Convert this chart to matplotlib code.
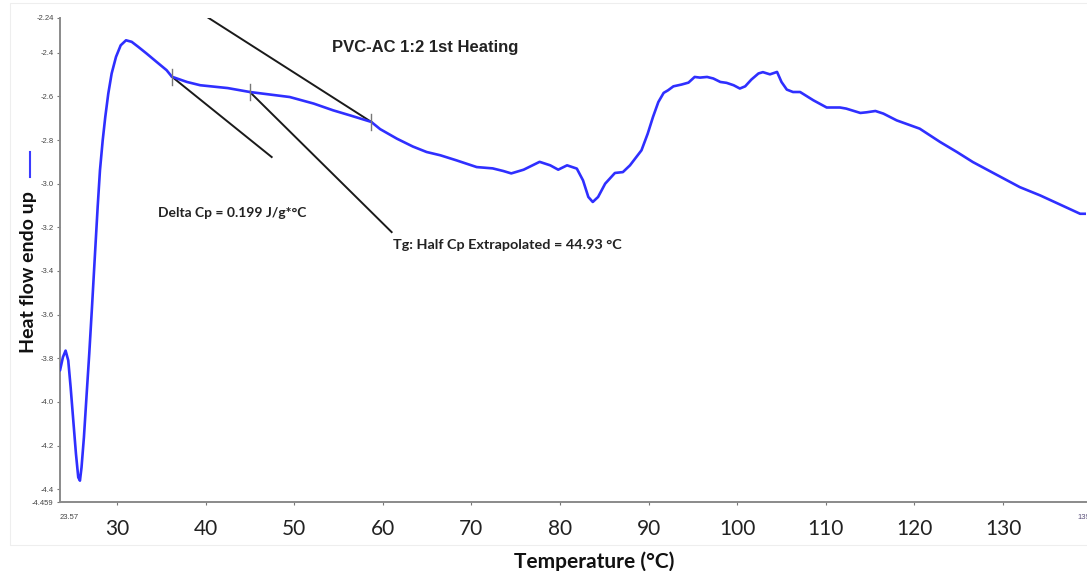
import matplotlib
matplotlib.use("Agg")
import matplotlib.pyplot as plt
from matplotlib.lines import Line2D
from matplotlib.patches import Rectangle

# DSC trace, first heating of PVC-AC 1:2
temp = [23.57, 23.9, 24.2, 24.5, 24.77, 25.07, 25.37, 25.63, 25.82, 26.0,
        26.27, 26.58, 26.87, 27.18, 27.52, 27.82, 28.08, 28.39, 28.68, 29.02,
        29.4, 29.89, 30.42, 31.02, 31.66, 32.4, 33.35, 34.47, 35.6, 36.2,
        37.9, 39.4, 42.5, 45.0, 49.5, 52.2, 54.4, 56.3, 58.7, 59.7, 61.6,
        63.4, 64.95, 66.5, 68.3, 70.6, 72.4, 73.6, 74.5, 75.9, 77.7, 78.9,
        79.8, 80.8, 81.9, 82.6, 83.2, 83.7, 84.3, 85.1, 86.2, 87.1, 87.9,
        89.2, 89.9, 90.5, 91.1, 91.7, 92.2, 92.8, 93.7, 94.5, 95.2, 95.8,
        96.6, 97.3, 98.1, 98.8, 99.6, 100.3, 100.9, 101.6, 102.4, 102.9,
        103.7, 104.5, 105.0, 105.6, 106.3, 107.1, 108.6, 110.1, 111.6,
        112.3, 113.9, 114.6, 115.6, 116.5, 118.0, 120.6, 122.9, 124.8,
        126.6, 128.9, 131.9, 134.2, 136.4, 138.7, 139.37]
heat_flow = [-3.856, -3.795, -3.765, -3.81, -3.933, -4.086, -4.238, -4.346,
             -4.361, -4.30, -4.162, -3.963, -3.78, -3.566, -3.321, -3.107,
             -2.939, -2.801, -2.694, -2.587, -2.495, -2.419, -2.366, -2.343,
             -2.35, -2.373, -2.404, -2.442, -2.48, -2.51, -2.534, -2.549,
             -2.562, -2.58, -2.603, -2.633, -2.664, -2.687, -2.717, -2.75,
             -2.794, -2.83, -2.855, -2.87, -2.893, -2.924, -2.93, -2.942,
             -2.953, -2.936, -2.90, -2.916, -2.936, -2.916, -2.931, -2.985,
             -3.061, -3.084, -3.061, -3.0, -2.951, -2.947, -2.916, -2.847,
             -2.771, -2.694, -2.626, -2.584, -2.572, -2.554, -2.546, -2.537,
             -2.511, -2.514, -2.511, -2.518, -2.534, -2.538, -2.549, -2.564,
             -2.554, -2.523, -2.495, -2.489, -2.499, -2.488, -2.534, -2.569,
             -2.58, -2.58, -2.618, -2.651, -2.651, -2.656, -2.676, -2.673,
             -2.667, -2.679, -2.71, -2.748, -2.809, -2.855, -2.901, -2.951,
             -3.016, -3.054, -3.095, -3.138, -3.138]

# glass transition analysis: onset, midpoint (Tg), end
tg_points_x = [36.2, 45.0, 58.7]
tg_points_y = [-2.51, -2.58, -2.717]
# tangent / construction lines (x0, y0, x1, y1)
tangent_lines = [
    (36.2, -2.51, 47.46, -2.878),
    (45.0, -2.58, 61.0, -3.222),
    (40.2, -2.237, 58.7, -2.717),
]

x_ticks = [30, 40, 50, 60, 70, 80, 90, 100, 110, 120, 130]
y_ticks = [-2.24, -2.4, -2.6, -2.8, -3.0, -3.2, -3.4, -3.6, -3.8, -4.0,
           -4.2, -4.4, -4.459]
y_tick_labels = ["-2.24", "-2.4", "-2.6", "-2.8", "-3.0", "-3.2", "-3.4",
                 "-3.6", "-3.8", "-4.0", "-4.2", "-4.4", "-4.459"]
x_min, x_max = 23.57, 139.37
y_min, y_max = -4.459, -2.24

fig = plt.figure(figsize=(10.87, 5.71), dpi=100)
ax = fig.add_axes([0.0552, 0.1208, 0.9439, 0.848])

# faint outer frame
fig.add_artist(Rectangle((0.009, 0.045), 0.995, 0.95, transform=fig.transFigure,
                         fill=False, edgecolor="#eeeeee", linewidth=0.8))

ax.plot(temp, heat_flow, color="#2f2fff", linewidth=1.9, solid_capstyle="round",
        solid_joinstyle="round", zorder=3)

for x0, y0, x1, y1 in tangent_lines:
    ax.plot([x0, x1], [y0, y1], color="#1a1a1a", linewidth=1.4, zorder=2)
for tx, ty in zip(tg_points_x, tg_points_y):
    ax.plot([tx, tx], [ty - 0.037, ty + 0.037], color="#777777", linewidth=1.0, zorder=4)

ax.set_xlim(x_min, x_max)
ax.set_ylim(y_min, y_max)

for side in ["top", "right"]:
    ax.spines[side].set_visible(False)
for side in ["left", "bottom"]:
    ax.spines[side].set_color("#8a8a8a")
    ax.spines[side].set_linewidth(1.4)

ax.set_yticks(y_ticks)
ax.set_yticklabels(y_tick_labels, fontsize=5.5, color="#444444",
                   family="Liberation Sans")
ax.tick_params(axis="y", length=2.5, width=0.8, color="#777777", pad=2)

ax.set_xticks(x_ticks)
ax.set_xticklabels([str(t) for t in x_ticks], fontsize=15, family="Lato",
                   color="#222222")
ax.tick_params(axis="x", length=2.5, width=0.8, color="#777777", pad=10)

# small end labels of the recorded temperature range
ax.text(x_min, -0.025, "23.57", transform=ax.get_xaxis_transform(),
        ha="left", va="top", fontsize=5.5, color="#444444", family="Liberation Sans")
ax.text(138.4, -0.025, "139.37", transform=ax.get_xaxis_transform(),
        ha="left", va="top", fontsize=5.5, color="#5a4f7a", family="Liberation Sans")

ax.text(64.8, -2.375, "PVC-AC 1:2 1st Heating", ha="center", va="center",
        fontsize=12, fontweight="bold", family="Liberation Sans", color="#222222")
ax.text(34.6, -3.136, "Delta Cp = 0.199 J/g*\u00b0C", ha="left", va="center",
        fontsize=10, fontweight="bold", family="Lato", color="#222222")
ax.text(61.15, -3.283, "Tg: Half Cp Extrapolated = 44.93 \u00b0C", ha="left",
        va="center", fontsize=10.4, fontweight="bold", family="Lato", color="#222222")

fig.text(0.026, 1 - 272 / 571, "Heat flow endo up", rotation=90, ha="center",
         va="center", fontsize=14, fontweight="bold", family="Lato", color="#111111")
fig.add_artist(Line2D([30 / 1087, 30 / 1087], [1 - 152 / 571, 1 - 177 / 571],
                      transform=fig.transFigure, color="#3b3bff", linewidth=1.5))
fig.text(594 / 1087, 1 - 562 / 571, "Temperature (\u00b0C)", ha="center",
         va="center", fontsize=15, fontweight="bold", family="Lato", color="#111111")

fig.savefig("out.png", dpi=100, facecolor="white")
